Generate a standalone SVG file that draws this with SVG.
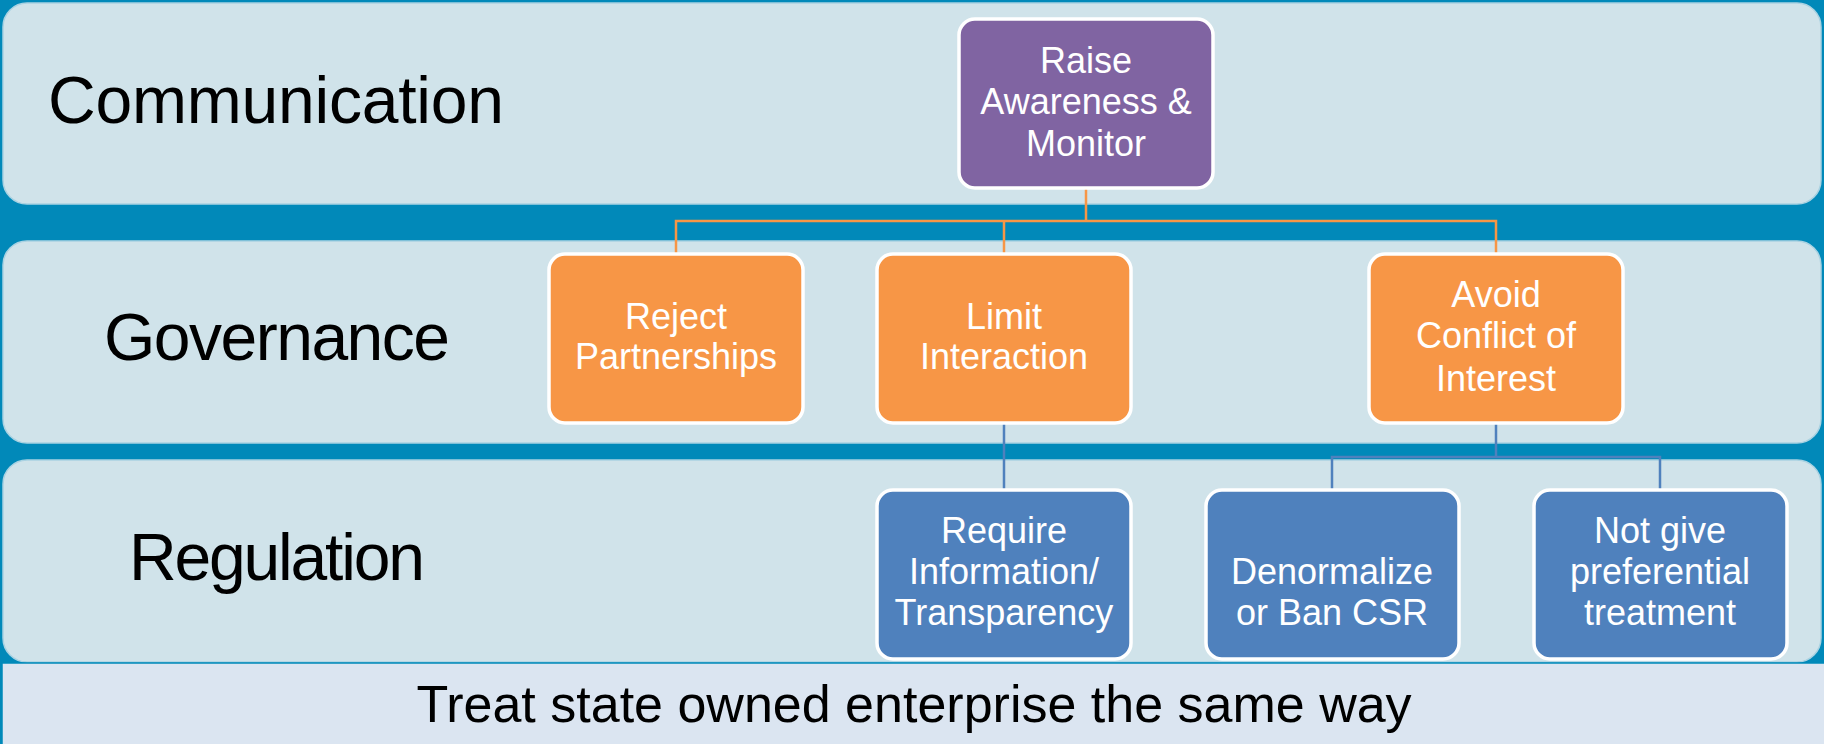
<svg xmlns="http://www.w3.org/2000/svg" width="1824" height="744" viewBox="0 0 1824 744">
<style>
.band{fill:#d0e3ea;stroke:#a9d2e2;stroke-width:1.5}
.lbl{font-family:"Liberation Sans",Arial,sans-serif;font-size:66px;fill:#000}
.box{stroke:#fff;stroke-width:3.5}
.purple{fill:#8064a2}
.orange{fill:#f79646}
.blue{fill:#4f81bd}
.bt{font-family:"Liberation Sans",Arial,sans-serif;font-size:36px;fill:#fff;text-anchor:middle}
.co{fill:none;stroke:#f79646;stroke-width:2.5}
.cb{fill:none;stroke:#4f81bd;stroke-width:2.5}
</style>
<rect x="0" y="0" width="1824" height="744" fill="#0189b9"/>
<g id="bands">
<rect class="band" x="3" y="3" width="1818" height="201" rx="24"/>
<rect class="band" x="3" y="241" width="1818" height="202" rx="24"/>
<rect class="band" x="3" y="460" width="1818" height="202" rx="24"/>
<rect x="2" y="663" width="1824" height="84" fill="#dbe5f1" stroke="#0189b9" stroke-width="1.5"/>
</g>
<g id="labels">
<text class="lbl" x="48" y="123" textLength="456">Communication</text>
<text class="lbl" x="104" y="360" textLength="346">Governance</text>
<text class="lbl" x="129" y="580" textLength="296">Regulation</text>
<text x="914" y="722" font-family="Liberation Sans, Arial, sans-serif" font-size="52" text-anchor="middle" fill="#000">Treat state owned enterprise the same way</text>
</g>
<g id="connectors">
<path class="co" d="M1086 188 V221 M676 253 V221 H1496 V253 M1004 221 V253"/>
<path class="cb" d="M1004 423 V490 M1496 423 V457 M1332 490 V457 H1660 V490"/>
</g>
<g id="raise">
<rect class="box purple" x="959" y="19" width="254" height="169" rx="16"/>
<text class="bt" x="1086" y="73">Raise</text>
<text class="bt" x="1086" y="114">Awareness &amp;</text>
<text class="bt" x="1086" y="156">Monitor</text>
</g>
<g id="reject">
<rect class="box orange" x="549" y="254" width="254" height="169" rx="16"/>
<text class="bt" x="676" y="329">Reject</text>
<text class="bt" x="676" y="369">Partnerships</text>
</g>
<g id="limit">
<rect class="box orange" x="877" y="254" width="254" height="169" rx="16"/>
<text class="bt" x="1004" y="329">Limit</text>
<text class="bt" x="1004" y="369">Interaction</text>
</g>
<g id="avoid">
<rect class="box orange" x="1369" y="254" width="254" height="169" rx="16"/>
<text class="bt" x="1496" y="307">Avoid</text>
<text class="bt" x="1496" y="348">Conflict of</text>
<text class="bt" x="1496" y="391">Interest</text>
</g>
<g id="require">
<rect class="box blue" x="877" y="490" width="254" height="169" rx="16"/>
<text class="bt" x="1004" y="543">Require</text>
<text class="bt" x="1004" y="584">Information/</text>
<text class="bt" x="1004" y="625">Transparency</text>
</g>
<g id="denormalize">
<rect class="box blue" x="1206" y="490" width="253" height="169" rx="16"/>
<text class="bt" x="1332" y="584">Denormalize</text>
<text class="bt" x="1332" y="625">or Ban CSR</text>
</g>
<g id="notgive">
<rect class="box blue" x="1534" y="490" width="253" height="169" rx="16"/>
<text class="bt" x="1660" y="543">Not give</text>
<text class="bt" x="1660" y="584">preferential</text>
<text class="bt" x="1660" y="625">treatment</text>
</g>
</svg>
